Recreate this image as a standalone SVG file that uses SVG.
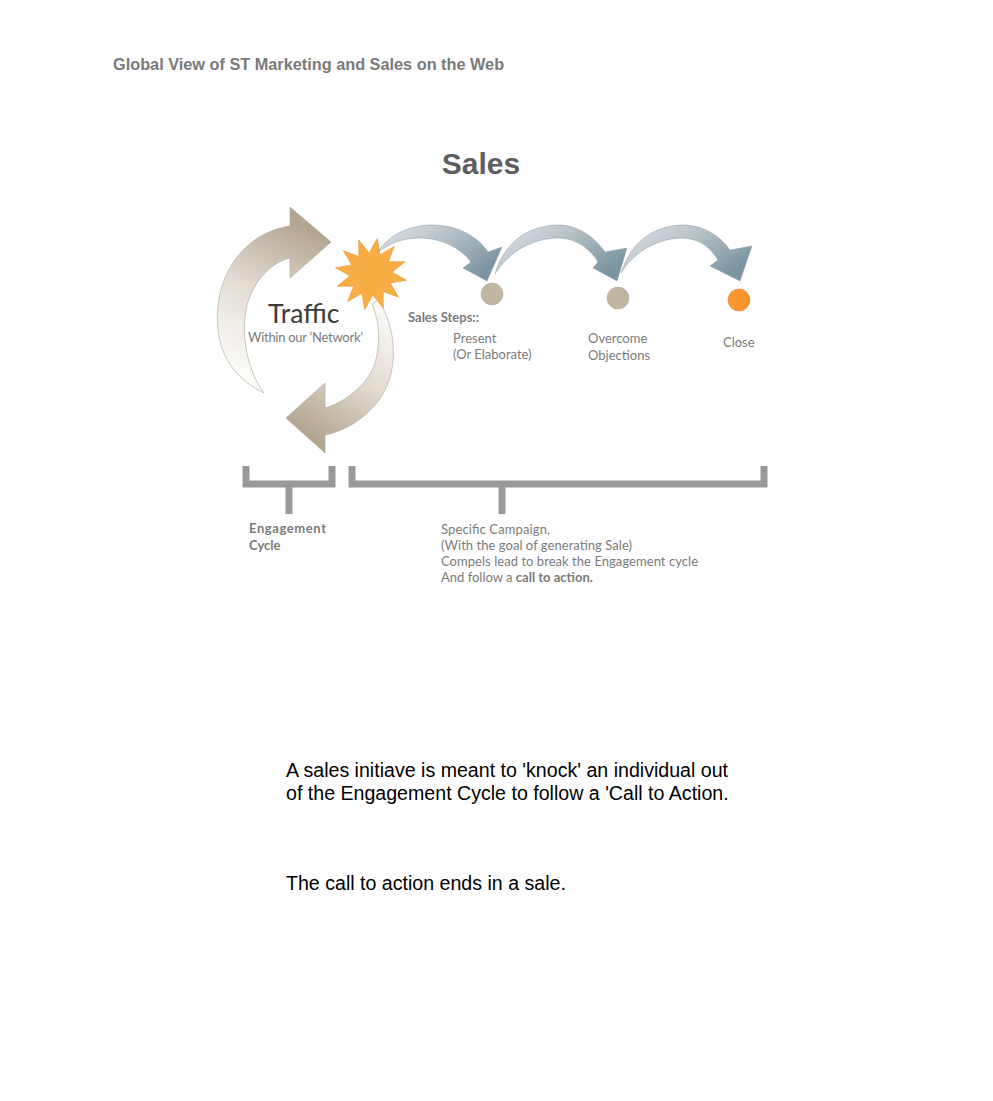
<svg xmlns="http://www.w3.org/2000/svg" width="993" height="1101" viewBox="0 0 993 1101">
<defs>
<linearGradient id="gTan1" gradientUnits="userSpaceOnUse" x1="250" y1="380" x2="320" y2="235">
<stop offset="0" stop-color="#fdfcfa"/><stop offset="0.5" stop-color="#e4ded5"/><stop offset="1" stop-color="#b3a590"/>
</linearGradient>
<linearGradient id="gTan2" gradientUnits="userSpaceOnUse" x1="380" y1="300" x2="295" y2="425">
<stop offset="0" stop-color="#fdfcfa"/><stop offset="0.5" stop-color="#e2dcd2"/><stop offset="1" stop-color="#b3a590"/>
</linearGradient>
<linearGradient id="gBlue" x1="0" y1="0" x2="1" y2="0.6">
<stop offset="0" stop-color="#e3e6e9"/><stop offset="0.5" stop-color="#b5c0c7"/><stop offset="1" stop-color="#7b94a2"/>
</linearGradient>
<style>
.t{font-family:Lato,"Open Sans",sans-serif;fill:#7b7b7b;font-size:13px}
.b{font-weight:bold}
.body{font-family:"Liberation Sans",Arial,sans-serif;font-size:19.6px;fill:#000}
.br{fill:none;stroke:#999;stroke-width:7}
.cyc{stroke:#a9a397;stroke-width:0.6}
.sa{fill:url(#gBlue);stroke:#8d9ba4;stroke-width:0.5}
</style>
</defs>
<rect width="993" height="1101" fill="#fff"/>

<text x="113" y="70" font-family="Liberation Sans,Arial,sans-serif" font-size="16.3" font-weight="bold" fill="#7a7a7a">Global View of ST Marketing and Sales on the Web</text>
<text x="481" y="174" text-anchor="middle" font-family="Liberation Sans,Arial,sans-serif" font-size="30" font-weight="bold" fill="#5e5e5e">Sales</text>

<g id="engagement-cycle">
<path class="cyc" fill="url(#gTan1)" d="M290 226 C238 234 210 285 219 337 C225 368 246 384 264 393 C248 372 240 335 247 305 C254 280 272 262 290 258 L290 278 L331 242 L290 207 Z"/>
<path class="cyc" fill="url(#gTan2)" d="M378 300 C396 325 402 375 375 405 C362 420 345 431 325 435 L325 453 L286 418 L325 383 L325 408 C345 402 366 386 374 366 C381 346 380 322 372 304 Z"/>
</g>

<g id="connectors">
<path class="sa" d="M378 252 C392 230 420 222 445 226 C465 229 480 240 488 252 L502 247 L487 281 L463 268 L471 262 C460 247 440 238 420 238 C400 238 388 245 378 252 Z"/>
<path class="sa" d="M495 274 C505 240 530 225 560 225 C580 226 595 238 605 252 L627 248 L617 281 L593 268 L598 262 C590 248 575 238 558 238 C535 238 510 250 495 274 Z"/>
<path class="sa" d="M621 273 C632 240 655 225 685 225 C705 226 720 236 730 250 L752 246 L740 281 L710 266 L718 260 C710 247 700 239 683 238 C660 238 635 250 621 273 Z"/>
</g>

<g id="traffic-star">
<polygon fill="#f9ae45" stroke="#e2962f" stroke-width="0.6" transform="translate(371 274) scale(1.06) translate(-371 -274)" points="376.9,240.5 379.5,255.9 392.9,248 387.4,262.5 403,262.4 390.9,272.3 404.5,279.9 389.1,282.5 397,295.9 382.5,290.4 382.6,306 372.7,293.9 365.1,307.5 362.5,292.1 349.1,300 354.6,285.5 339,285.6 351.1,275.7 337.5,268.1 352.9,265.5 345,252.1 359.5,257.6 359.4,242 369.3,254.1"/>
</g>

<g id="traffic-label">
<text x="268" y="323" font-family="Lato,'Open Sans',sans-serif" font-size="26.5" fill="#3b3b3b">Traffic</text>
<text x="248" y="342" class="t" font-size="12" textLength="115">Within our ‘Network’</text>
</g>

<g id="step-present">
<circle cx="492" cy="294" r="11" fill="#c3b6a0" stroke="#aaa08f" stroke-width="0.5"/>
<text x="453" y="343" class="t">Present</text>
<text x="453" y="359" class="t">(Or Elaborate)</text>
</g>
<g id="step-overcome">
<circle cx="618" cy="298" r="11" fill="#c3b6a0" stroke="#aaa08f" stroke-width="0.5"/>
<text x="588" y="343" class="t">Overcome</text>
<text x="588" y="360" class="t">Objections</text>
</g>
<g id="step-close">
<circle cx="739" cy="300" r="11" fill="#f7952f" stroke="#e0832a" stroke-width="0.5"/>
<text x="723" y="347" class="t">Close</text>
</g>
<g id="sales-steps-label">
<text x="408" y="322" class="t b" font-size="11.5">Sales Steps::</text>
</g>

<g id="engagement-bracket">
<path class="br" d="M246 466 V484 H332 V466 M289 484 V514"/>
<text x="249" y="533" class="t b" font-size="13.5" textLength="77">Engagement</text>
<text x="249" y="550" class="t b" font-size="13.5">Cycle</text>
</g>
<g id="campaign-bracket">
<path class="br" d="M352 466 V484 H764 V466 M502 484 V514"/>
<text x="441" y="534" class="t" textLength="109">Specific Campaign,</text>
<text x="441" y="550" class="t" textLength="191">(With the goal of generating Sale)</text>
<text x="441" y="566" class="t" textLength="257">Compels lead to break the Engagement cycle</text>
<text x="441" y="582" class="t">And follow a <tspan class="b">call to action.</tspan></text>
</g>

<g id="notes">
<text x="286" y="777" class="body">A sales initiave is meant to 'knock' an individual out</text>
<text x="286" y="800" class="body">of the Engagement Cycle to follow a 'Call to Action.</text>
<text x="286" y="890" class="body">The call to action ends in a sale.</text>
</g>
</svg>
